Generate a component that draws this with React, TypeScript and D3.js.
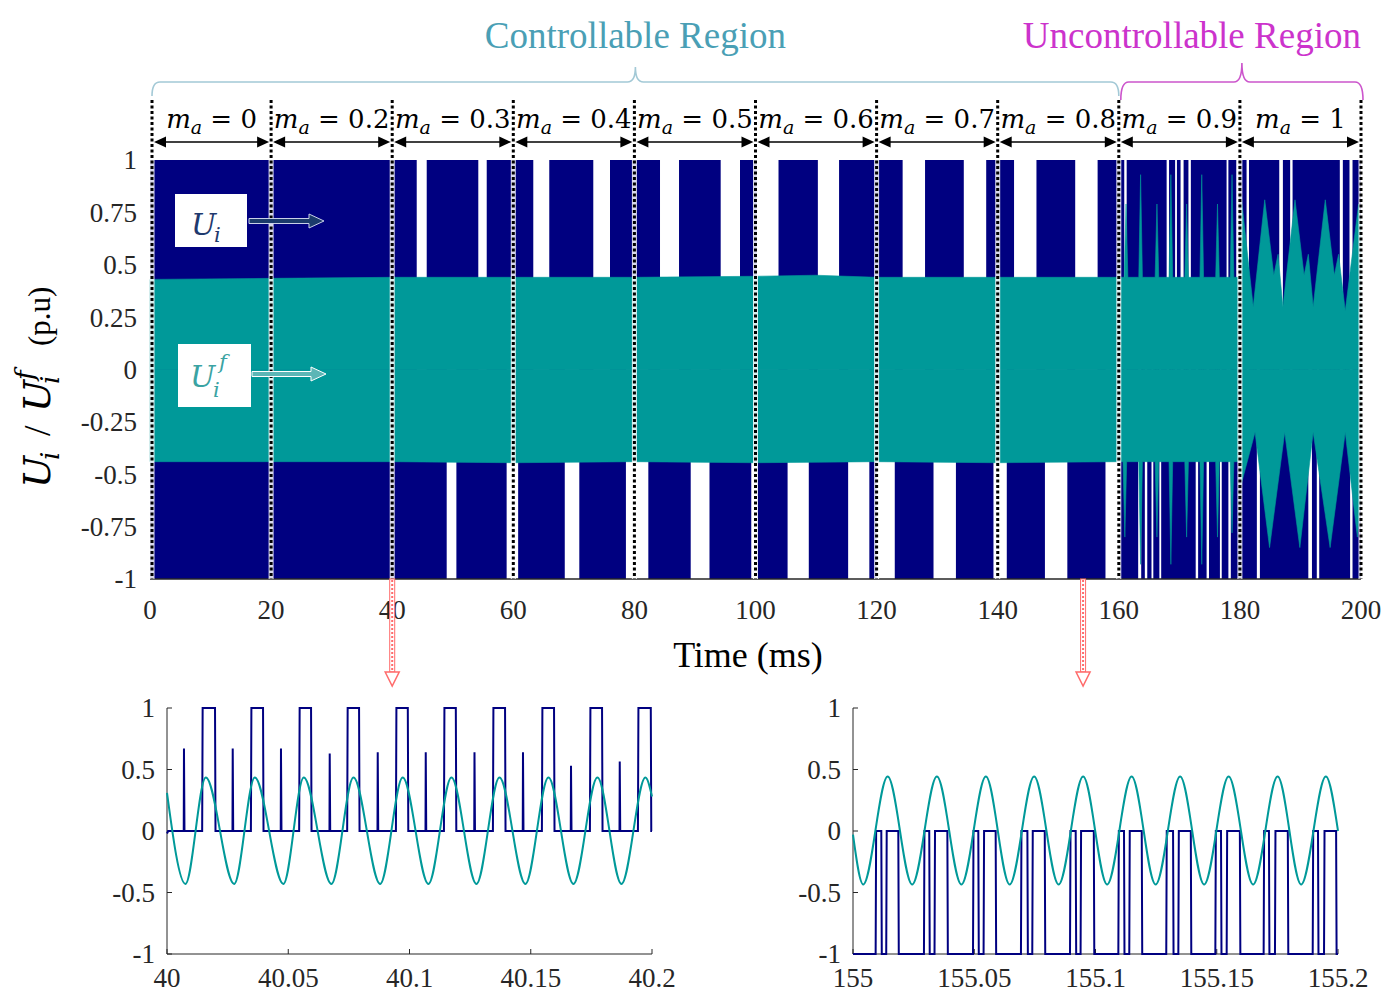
import React from "react";
import * as d3 from "d3";

// ---------------- data ----------------
const timeTicks = [0, 20, 40, 60, 80, 100, 120, 140, 160, 180, 200];
const valueTicks = [1, 0.75, 0.5, 0.25, 0, -0.25, -0.5, -0.75, -1];
const valueTickLabels = ["1", "0.75", "0.5", "0.25", "0", "-0.25", "-0.5", "-0.75", "-1"];
const segmentBounds = [0, 20, 40, 60, 80, 100, 120, 140, 160, 180, 200];
const maValues = ["0", "0.2", "0.3", "0.4", "0.5", "0.6", "0.7", "0.8", "0.9", "1"];

const regionNames = ["Controllable Region", "Uncontrollable Region"];
const regionStart = [0, 160];
const regionEnd = [160, 200];

// Ui (PWM output) : fills [-1, 1] except for the white gaps
const uiSpan = [0, 200];
const uiLevels = [-1, 1];
const uiUpperGaps: [number, number][] = [
  [44.05, 45.7], [54.22, 55.61], [63.3, 65.94], [73.21, 75.97], [84.23, 87.37], [94.25, 97.44],
  [100.2, 103.8], [110.3, 113.8], [124.3, 128.0], [134.4, 138.1], [142.7, 146.4], [152.8, 156.5],
  [160.9, 161.3], [167.9, 168.3], [169.3, 169.6], [170.2, 170.7], [171.5, 171.9], [177.8, 178.1],
  [179.4, 179.8], [181.1, 181.5], [186.5, 187.1], [188.3, 188.7], [196.5, 197.0], [198.1, 198.6],
];
const uiLowerGaps: [number, number][] = [
  [49.0, 50.6], [58.9, 60.8], [68.5, 70.9], [78.6, 82.3], [89.3, 92.4], [99.3, 100.3],
  [105.3, 108.8], [115.3, 118.8], [120.0, 123.0], [129.4, 133.1], [139.3, 141.5], [147.8, 151.5],
  [157.8, 160.2], [163.2, 163.7], [164.3, 164.7], [165.4, 165.7], [166.7, 167.0], [172.7, 173.1],
  [174.5, 174.9], [176.7, 177.0], [178.1, 178.5], [182.8, 183.3], [191.3, 191.9], [192.7, 193.1],
  [198.2, 198.6],
];

// Ui^f (filtered) envelope
const tealTopBaseT = [0, 20, 40, 60, 80, 100, 110, 120, 140, 160, 179.9];
const tealTopBaseV = [0.43, 0.435, 0.44, 0.44, 0.44, 0.445, 0.45, 0.44, 0.44, 0.44, 0.44];
const tealTopSpikeT = [161.2, 163.6, 166.3, 168.6, 171.2, 173.7, 176.3, 178.7];
const tealTopSpikeV = [0.79, 0.93, 0.79, 0.93, 0.79, 0.93, 0.79, 0.93];
const tealTopUncT = [180.0, 180.2, 182.2, 184.1, 185.6, 186.3, 187.1, 189.1, 190.6, 191.3, 192.1, 194.1, 195.6, 196.3, 197.4, 199.6, 200];
const tealTopUncV = [0.44, 0.83, 0.3, 0.81, 0.45, 0.55, 0.3, 0.81, 0.45, 0.55, 0.3, 0.81, 0.45, 0.55, 0.28, 0.79, 0.7];

const tealBotBaseT = [0, 20, 40, 60, 80, 100, 120, 140, 160, 179.9];
const tealBotBaseV = [-0.44, -0.44, -0.44, -0.445, -0.44, -0.445, -0.44, -0.445, -0.44, -0.44];
const tealBotSpikeT = [161.0, 163.6, 166.3, 168.6, 171.2, 173.7, 176.3, 178.7];
const tealBotSpikeV = [-0.8, -0.93, -0.8, -0.93, -0.8, -0.93, -0.8, -0.78];
const tealBotUncT = [180.0, 180.2, 182.5, 184.9, 187.4, 189.9, 192.1, 194.9, 197.4, 199.4, 200];
const tealBotUncV = [-0.44, -0.55, -0.3, -0.85, -0.3, -0.85, -0.3, -0.85, -0.3, -0.8, -0.6];

const dropArrowT = [40, 154.1];

// inset 1 (40 – 40.2 ms)
const in1Ticks = [40, 40.05, 40.1, 40.15, 40.2];
const in1TickLabels = ["40", "40.05", "40.1", "40.15", "40.2"];
const in1PulseOn = [40.0145, 40.0346, 40.0545, 40.0743, 40.0944, 40.1142, 40.1344, 40.1546, 40.1744, 40.1942];
const in1PulseOff = [40.0198, 40.0396, 40.0594, 40.0792, 40.0993, 40.1191, 40.1394, 40.1596, 40.1794, 40.1995];
const in1SpikeT = [40.0069, 40.027, 40.0469, 40.067, 40.0868, 40.1066, 40.1267, 40.1467, 40.1665, 40.1866];
const in1SpikeV = [0.67, 0.67, 0.67, 0.63, 0.64, 0.64, 0.64, 0.64, 0.53, 0.565];
const in1SineT = [40, 40.0076, 40.016, 40.0277, 40.0362, 40.048, 40.0564, 40.0678, 40.0769, 40.0879, 40.0972, 40.1078, 40.1173, 40.1276, 40.1371, 40.1478, 40.1573, 40.1676, 40.1775, 40.1874, 40.1973, 40.2];
const in1SineV = [0.31, -0.43, 0.435, -0.43, 0.435, -0.43, 0.435, -0.43, 0.435, -0.43, 0.435, -0.43, 0.435, -0.43, 0.435, -0.43, 0.435, -0.43, 0.435, -0.43, 0.435, 0.28];

// inset 2 (155 – 155.2 ms)
const in2Ticks = [155, 155.05, 155.1, 155.15, 155.2];
const in2TickLabels = ["155", "155.05", "155.1", "155.15", "155.2"];
const in2Switch = [
  155.00934, 155.01167, 155.0137, 155.01868,
  155.02926, 155.03144, 155.03362, 155.03891,
  155.04949, 155.05167, 155.05385, 155.05883,
  155.06926, 155.07191, 155.07393, 155.07907,
  155.08949, 155.09183, 155.09385, 155.0993,
  155.10942, 155.11175, 155.11393, 155.11907,
  155.12918, 155.13198, 155.13416, 155.1393,
  155.14942, 155.15175, 155.15409, 155.15953,
  155.16934, 155.17152, 155.17401, 155.1793,
  155.18957, 155.19175, 155.19424, 155.19922,
];
const in2Levels = [-1, 0];
const in2SineT = [155, 155.0042, 155.0143, 155.0244, 155.0346, 155.0447, 155.0548, 155.0646, 155.0747, 155.0848, 155.0949, 155.1048, 155.1149, 155.1248, 155.1349, 155.1448, 155.1549, 155.165, 155.1751, 155.1848, 155.195, 155.2];
const in2SineV = [-0.03, -0.435, 0.443, -0.435, 0.443, -0.435, 0.443, -0.435, 0.443, -0.435, 0.443, -0.435, 0.443, -0.435, 0.443, -0.435, 0.443, -0.435, 0.443, -0.435, 0.443, 0.0];
const insetYTicks = [1, 0.5, 0, -0.5, -1];
const insetYTickLabels = ["1", "0.5", "0", "-0.5", "-1"];

// ---------------- styles ----------------
const NAVY = "#000080";
const TEAL = "#009999";
const AX = "#262626";
const SERIF = "'Liberation Serif', 'Times New Roman', serif";
const MATH = "'DejaVu Serif', serif";

// ---------------- scales ----------------
const x = d3.scaleLinear().domain([0, 200]).range([150, 1361]);
const y = d3.scaleLinear().domain([-1, 1]).range([579, 160]);
const in1X = d3.scaleLinear().domain([40, 40.2]).range([167, 652]);
const in2X = d3.scaleLinear().domain([155, 155.2]).range([853, 1338]);
const inY = d3.scaleLinear().domain([-1, 1]).range([954, 708]);

function envelope(baseT: number[], baseV: number[], spT: number[], spV: number[], uT: number[], uV: number[], base: number) {
  const pts: [number, number][] = baseT.map((t, i) => [t, baseV[i]]);
  spT.forEach((t, i) => {
    pts.push([t - 0.3, base], [t, spV[i]], [t + 0.3, base]);
  });
  uT.forEach((t, i) => pts.push([t, uV[i]]));
  pts.sort((a, b) => a[0] - b[0]);
  return pts;
}

const topPts = envelope(tealTopBaseT, tealTopBaseV, tealTopSpikeT, tealTopSpikeV, tealTopUncT, tealTopUncV, 0.44);
const botPts = envelope(tealBotBaseT, tealBotBaseV, tealBotSpikeT, tealBotSpikeV, tealBotUncT, tealBotUncV, -0.44);

const halfArea = d3.area<[number, number]>().x((d) => x(d[0])).y0(y(0)).y1((d) => y(d[1]));

function in1UiPoints() {
  const ev: [number, number][] = [[40, -0.02], [40.0005, 0]];
  in1SpikeT.forEach((t, i) => ev.push([t, 0], [t + 0.0001, in1SpikeV[i]], [t + 0.0003, 0]));
  in1PulseOn.forEach((t, i) => {
    ev.push([t, 0], [t + 0.0002, 1], [in1PulseOff[i], 1], [in1PulseOff[i] + 0.0002, 0]);
  });
  ev.push([40.2, 0]);
  ev.sort((a, b) => a[0] - b[0]);
  return ev;
}
function in2UiPoints() {
  const ev: [number, number][] = [[155, in2Levels[0]]];
  let lvl = 0;
  in2Switch.forEach((t) => {
    const next = 1 - lvl;
    ev.push([t, in2Levels[lvl]], [t + 0.0002, in2Levels[next]]);
    lvl = next;
  });
  ev.push([155.2, in2Levels[lvl]]);
  return ev;
}

const stepLine = (sx: d3.ScaleLinear<number, number>) =>
  d3.line<[number, number]>().x((d) => sx(d[0])).y((d) => inY(d[1]));
const sineLine = (sx: d3.ScaleLinear<number, number>) =>
  d3.line<[number, number]>().x((d) => sx(d[0])).y((d) => inY(d[1])).curve(d3.curveMonotoneX);

function Inset({ sx, ticks, labels, ui, sineT, sineV }: any) {
  const [x0, x1] = sx.range();
  const sine: [number, number][] = sineT.map((t: number, i: number) => [t, sineV[i]]);
  return (
    <g>
      <line x1={x0} x2={x0} y1={inY(1)} y2={inY(-1)} stroke={AX} strokeWidth={1} />
      <line x1={x0} x2={x1} y1={inY(-1)} y2={inY(-1)} stroke={AX} strokeWidth={1} />
      {ticks.map((t: number, i: number) => (
        <g key={i}>
          <line x1={sx(t)} x2={sx(t)} y1={inY(-1)} y2={inY(-1) - 5} stroke={AX} strokeWidth={1} />
          <text x={sx(t)} y={987} textAnchor="middle" fontFamily={SERIF} fontSize={27} fill={AX}>
            {labels[i]}
          </text>
        </g>
      ))}
      {insetYTicks.map((v, i) => (
        <g key={i}>
          <line x1={x0} x2={x0 + 5} y1={inY(v)} y2={inY(v)} stroke={AX} strokeWidth={1} />
          <text x={x0 - 12} y={inY(v)} dy="0.35em" textAnchor="end" fontFamily={SERIF} fontSize={27} fill={AX}>
            {insetYTickLabels[i]}
          </text>
        </g>
      ))}
      <path d={stepLine(sx)(ui) || ""} fill="none" stroke={NAVY} strokeWidth={2} />
      <path d={sineLine(sx)(sine) || ""} fill="none" stroke={TEAL} strokeWidth={2} />
    </g>
  );
}

function brace(x0: number, x1: number, yb: number, yTip: number, yEnd: number) {
  const xm = (x0 + x1) / 2;
  const r = 8;
  return `M${x0},${yEnd} Q${x0},${yb} ${x0 + r},${yb} L${xm - r},${yb} Q${xm},${yb} ${xm},${yTip} Q${xm},${yb} ${xm + r},${yb} L${x1 - r},${yb} Q${x1},${yb} ${x1},${yEnd}`;
}

export default function App() {
  const regionColors = ["#4a9fb5", "#cc33cc"];
  const braceColors = ["#a3c9d6", "#cc55cc"];
  return (
    <svg width={1397} height={997} style={{ position: "absolute", left: 0, top: 0 }} xmlns="http://www.w3.org/2000/svg">
      <rect width={1397} height={997} fill="white" />

      {/* Ui navy fill */}
      <rect x={x(uiSpan[0])} width={x(uiSpan[1]) - x(uiSpan[0])} y={y(uiLevels[1])} height={y(uiLevels[0]) - y(uiLevels[1])} fill={NAVY} />
      {uiUpperGaps.map((g, i) => (
        <rect key={"u" + i} x={x(g[0])} width={x(g[1]) - x(g[0])} y={y(1)} height={y(0) - y(1)} fill="white" />
      ))}
      {uiLowerGaps.map((g, i) => (
        <rect key={"l" + i} x={x(g[0])} width={x(g[1]) - x(g[0])} y={y(0)} height={y(-1) - y(0)} fill="white" />
      ))}
      {/* Ui^f teal */}
      <path d={halfArea(topPts) || ""} fill={TEAL} stroke={TEAL} strokeWidth={0.6} />
      <path d={halfArea(botPts) || ""} fill={TEAL} stroke={TEAL} strokeWidth={0.6} />

      {/* main axes */}
      <line x1={x(0)} x2={x(200)} y1={y(-1)} y2={y(-1)} stroke={AX} strokeWidth={1.3} />
      {timeTicks.map((t) => (
        <text key={t} x={x(t)} y={619} textAnchor="middle" fontFamily={SERIF} fontSize={27} fill={AX}>
          {String(t)}
        </text>
      ))}
      {valueTicks.map((v, i) => (
        <text key={v} x={137} y={y(v)} dy="0.35em" textAnchor="end" fontFamily={SERIF} fontSize={27} fill={AX}>
          {valueTickLabels[i]}
        </text>
      ))}
      <text x={748} y={667} textAnchor="middle" fontFamily={SERIF} fontSize={36} fill="black">
        Time (ms)
      </text>

      {/* y label, rotated */}
      <g transform="translate(50,488) rotate(-90)">
        <text fill="black" fontFamily={MATH} fontStyle="italic">
          <tspan x={0} y={0} fontSize={38}>U</tspan>
          <tspan x={28} y={9} fontSize={26}>i</tspan>
          <tspan x={52} y={0} fontSize={38} fontStyle="normal" fontFamily={SERIF}>/</tspan>
          <tspan x={76} y={0} fontSize={38}>U</tspan>
          <tspan x={104} y={9} fontSize={26}>i</tspan>
          <tspan x={108} y={-16} fontSize={26}>f</tspan>
          <tspan x={142} y={0} fontSize={31} fontStyle="normal" fontFamily={SERIF}>(p.u)</tspan>
        </text>
      </g>

      {/* dotted segment lines */}
      {segmentBounds.map((b, i) => {
        const xx = x(b) + (i === 0 ? 2 : 0);
        return (
          <g key={"d" + i}>
            <line x1={xx} x2={xx} y1={100} y2={y(-1)} stroke="white" strokeWidth={5} opacity={0.85} />
            <line x1={xx} x2={xx} y1={100} y2={y(-1)} stroke="black" strokeWidth={3} strokeDasharray="3 2.5" />
          </g>
        );
      })}

      {/* segment arrows and labels */}
      {maValues.map((m, i) => {
        const a = x(segmentBounds[i]) + (i === 0 ? 4 : 2);
        const b = x(segmentBounds[i + 1]) - 2;
        const yy = 142;
        return (
          <g key={"m" + i}>
            <line x1={a + 6} x2={b - 6} y1={yy} y2={yy} stroke="black" strokeWidth={1.5} />
            <path d={`M${a},${yy} L${a + 12},${yy - 5.5} L${a + 12},${yy + 5.5} Z`} fill="black" />
            <path d={`M${b},${yy} L${b - 12},${yy - 5.5} L${b - 12},${yy + 5.5} Z`} fill="black" />
            <text x={(a + b) / 2} y={128} textAnchor="middle" fontFamily={MATH} fontSize={26} fill="black">
              <tspan fontStyle="italic">m</tspan>
              <tspan fontStyle="italic" fontSize={19} dy={6}>a</tspan>
              <tspan dy={-6}>{"\u00a0=\u00a0" + m}</tspan>
            </text>
          </g>
        );
      })}

      {/* region braces and titles */}
      {regionNames.map((n, i) => {
        const x0 = x(regionStart[i]) + 2;
        const x1 = x(regionEnd[i]) + (i === 0 ? 0 : 2);
        return (
          <g key={n}>
            <path d={brace(x0, x1, 82, i === 0 ? 67 : 63, i === 0 ? 96 : 100)} fill="none" stroke={braceColors[i]} strokeWidth={1.6} />
            <text x={(x0 + x1) / 2 + (i === 0 ? 0 : -50)} y={48} textAnchor="middle" fontFamily={SERIF} fontSize={37} fill={regionColors[i]}>
              {n}
            </text>
          </g>
        );
      })}

      {/* legend boxes */}
      <rect x={175} y={194} width={72} height={53} fill="white" />
      <text fontFamily={MATH} fontStyle="italic" fill="#1f3a6e">
        <tspan x={191} y={235} fontSize={30}>U</tspan>
        <tspan x={214} y={242} fontSize={21}>i</tspan>
      </text>
      <path d="M249,218.5 L309,218.5 L309,214 L324,221 L309,228 L309,223.5 L249,223.5 Z" fill="#1a3a6b" stroke="#c8d0e8" strokeWidth={1} />
      <rect x={178} y={344} width={73} height={63} fill="white" />
      <text fontFamily={MATH} fontStyle="italic" fill="#3aa3a3">
        <tspan x={190} y={387} fontSize={30}>U</tspan>
        <tspan x={213} y={397} fontSize={21}>i</tspan>
        <tspan x={219} y={369} fontSize={21}>f</tspan>
      </text>
      <path d="M252,371.5 L311,371.5 L311,367 L326,374 L311,381 L311,376.5 L252,376.5 Z" fill="#5cb6b6" stroke="white" strokeWidth={1} />

      {/* red drop arrows */}
      {dropArrowT.map((t, i) => {
        const xx = x(t);
        return (
          <g key={"r" + i}>
            <rect x={xx - 2.5} y={579} width={5} height={93} fill="white" stroke="#ff6b6b" strokeWidth={1} />
            <line x1={xx} x2={xx} y1={580} y2={672} stroke="#ff6b6b" strokeWidth={2} strokeDasharray="2 2" />
            <path d={`M${xx - 7},672 L${xx + 7},672 L${xx},686 Z`} fill="white" stroke="#ff6b6b" strokeWidth={1.5} />
          </g>
        );
      })}

      {/* insets */}
      <Inset sx={in1X} ticks={in1Ticks} labels={in1TickLabels} ui={in1UiPoints()} sineT={in1SineT} sineV={in1SineV} />
      <Inset sx={in2X} ticks={in2Ticks} labels={in2TickLabels} ui={in2UiPoints()} sineT={in2SineT} sineV={in2SineV} />
    </svg>
  );
}
